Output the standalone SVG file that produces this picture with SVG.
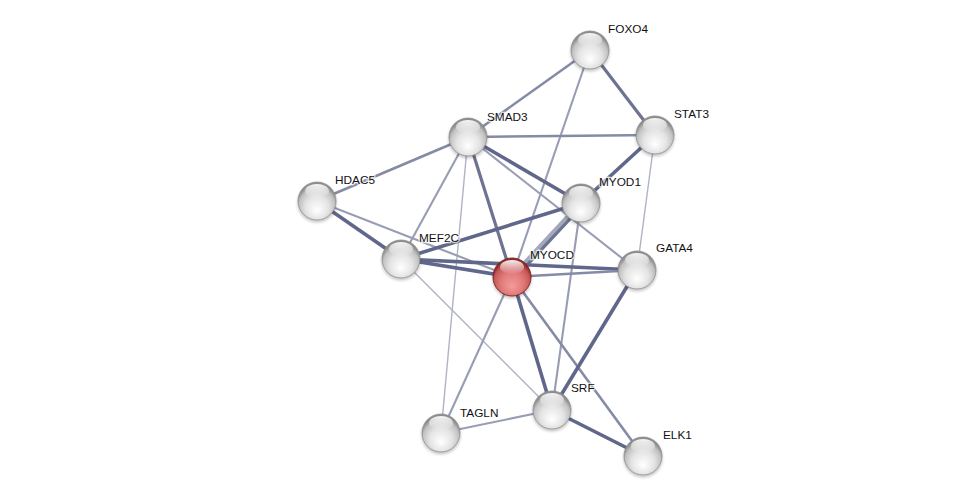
<svg xmlns="http://www.w3.org/2000/svg" width="976" height="501" viewBox="0 0 976 501">
<defs>
<radialGradient id="gGray" cx="0.5" cy="0.62" r="0.55" fx="0.5" fy="0.75">
<stop offset="0" stop-color="#ffffff"/>
<stop offset="0.55" stop-color="#e4e4e4"/>
<stop offset="0.85" stop-color="#c2c2c2"/>
<stop offset="1" stop-color="#8c8c8c"/>
</radialGradient>
<radialGradient id="gRed" cx="0.5" cy="0.62" r="0.55" fx="0.5" fy="0.75">
<stop offset="0" stop-color="#f59a9a"/>
<stop offset="0.55" stop-color="#e07a7a"/>
<stop offset="0.85" stop-color="#c85858"/>
<stop offset="1" stop-color="#8e2a2a"/>
</radialGradient>
<linearGradient id="gHi" x1="0" y1="0" x2="0" y2="1">
<stop offset="0" stop-color="#ffffff" stop-opacity="0.95"/>
<stop offset="1" stop-color="#ffffff" stop-opacity="0"/>
</linearGradient>
<filter id="sh" x="-50%" y="-50%" width="200%" height="200%">
<feGaussianBlur stdDeviation="1.5"/>
</filter>
<g id="sphere">
<circle cx="0" cy="2" r="19.5" fill="#000" opacity="0.22" filter="url(#sh)"/>
<circle cx="0" cy="0" r="19" fill="url(#gGray)" stroke="#909090" stroke-width="0.8"/>
<ellipse cx="0" cy="-10" rx="12" ry="7" fill="url(#gHi)"/>
</g>
<g id="sphereRed">
<circle cx="0" cy="2" r="19.5" fill="#000" opacity="0.22" filter="url(#sh)"/>
<circle cx="0" cy="0" r="19" fill="url(#gRed)" stroke="#7a1f1f" stroke-width="0.9"/>
<ellipse cx="0" cy="-10" rx="12" ry="7" fill="url(#gHi)"/>
</g>
</defs>
<style>
.e{fill:none;stroke-linecap:butt}
.t1{stroke:#afb3c4;stroke-width:1.4}
.t2{stroke:#989db3;stroke-width:2.1}
.t3{stroke:#858ba5;stroke-width:2.6}
.t4{stroke:#6d7391;stroke-width:3.2}
.t5{stroke:#60678a;stroke-width:3.6}
.lbl{font-family:"Liberation Sans",Arial,sans-serif;font-size:11.8px;fill:#111;stroke:#fff;stroke-width:2.5;stroke-opacity:0.7;paint-order:stroke}
</style>
<rect width="976" height="501" fill="#ffffff"/>
<g id="edges">
<line class="e t3" x1="590" y1="50" x2="468" y2="137"/>
<line class="e t4" x1="590" y1="50" x2="655" y2="135"/>
<line class="e t2" x1="590" y1="50" x2="512" y2="277"/>
<line class="e t3" x1="468" y1="137" x2="655" y2="135"/>
<line class="e t3" x1="468" y1="137" x2="317" y2="201"/>
<line class="e t5" x1="468" y1="137" x2="581" y2="203"/>
<line class="e t2" x1="468" y1="137" x2="637" y2="270"/>
<line class="e t2" x1="468" y1="137" x2="401" y2="259"/>
<line class="e t4" x1="468" y1="137" x2="512" y2="277"/>
<line class="e t1" x1="468" y1="137" x2="441" y2="433"/>
<line class="e t5" x1="317" y1="201" x2="401" y2="259"/>
<line class="e t2" x1="317" y1="201" x2="512" y2="277"/>
<line class="e t5" x1="655" y1="135" x2="581" y2="203"/>
<line class="e t1" x1="655" y1="135" x2="637" y2="270"/>
<line class="e t5" x1="581" y1="203" x2="401" y2="259"/>
<line class="e" x1="581" y1="203" x2="512" y2="277" stroke-width="5" stroke="#a3a8bd"/>
<line class="e t4" x1="583" y1="205" x2="514" y2="279"/>
<line class="e t2" x1="581" y1="203" x2="552" y2="410"/>
<line class="e t5" x1="401" y1="259" x2="512" y2="277"/>
<line class="e t5" x1="401" y1="259" x2="637" y2="270"/>
<line class="e t1" x1="401" y1="259" x2="552" y2="410"/>
<line class="e t2" x1="512" y1="277" x2="441" y2="433"/>
<line class="e t5" x1="512" y1="277" x2="552" y2="410"/>
<line class="e t3" x1="512" y1="277" x2="643" y2="456"/>
<line class="e t3" x1="512" y1="277" x2="637" y2="270"/>
<line class="e t5" x1="637" y1="270" x2="552" y2="410"/>
<line class="e t2" x1="552" y1="410" x2="441" y2="433"/>
<line class="e t5" x1="552" y1="410" x2="643" y2="456"/>
</g>
<g id="FOXO4"><use href="#sphere" x="590" y="50"/><text class="lbl" x="608" y="33">FOXO4</text></g>
<g id="STAT3"><use href="#sphere" x="655" y="135"/><text class="lbl" x="674" y="118">STAT3</text></g>
<g id="SMAD3"><use href="#sphere" x="468" y="137"/><text class="lbl" x="487" y="121">SMAD3</text></g>
<g id="HDAC5"><use href="#sphere" x="317" y="201"/><text class="lbl" x="335" y="184">HDAC5</text></g>
<g id="MYOD1"><use href="#sphere" x="581" y="203"/><text class="lbl" x="599" y="186">MYOD1</text></g>
<g id="MEF2C"><use href="#sphere" x="401" y="259"/><text class="lbl" x="419" y="242">MEF2C</text></g>
<g id="MYOCD"><use href="#sphereRed" x="512" y="277"/><text class="lbl" x="530" y="259">MYOCD</text></g>
<g id="GATA4"><use href="#sphere" x="637" y="270"/><text class="lbl" x="656" y="252">GATA4</text></g>
<g id="SRF"><use href="#sphere" x="552" y="410"/><text class="lbl" x="571" y="392">SRF</text></g>
<g id="TAGLN"><use href="#sphere" x="441" y="433"/><text class="lbl" x="460" y="417">TAGLN</text></g>
<g id="ELK1"><use href="#sphere" x="643" y="456"/><text class="lbl" x="663" y="439">ELK1</text></g>
</svg>
